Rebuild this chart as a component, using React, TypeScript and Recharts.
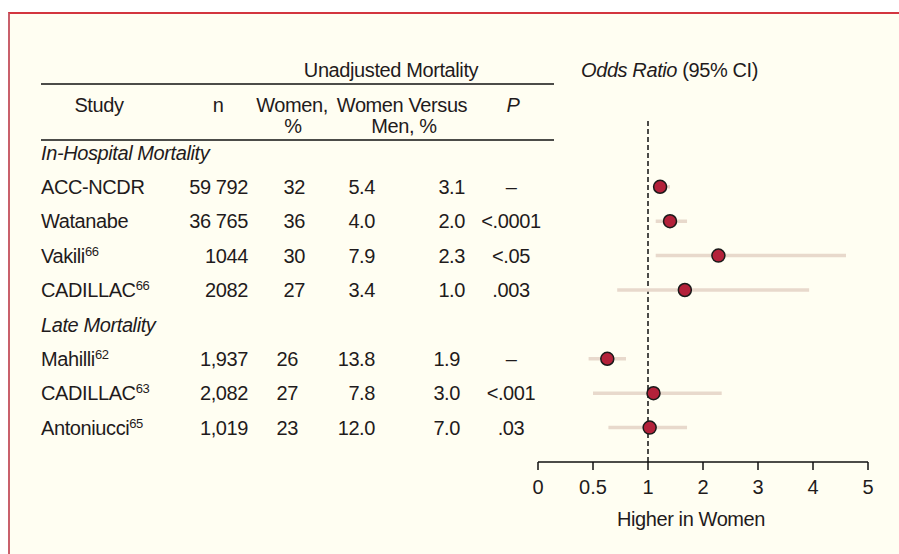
import { ScatterChart, Scatter, XAxis, YAxis, ReferenceLine, Label } from 'recharts';

// table columns
const studies = ['ACC-NCDR', 'Watanabe', 'Vakili', 'CADILLAC', 'Mahilli', 'CADILLAC', 'Antoniucci'];
const refs = ['', '', '66', '66', '62', '63', '65'];
const groupOf = [0, 0, 0, 0, 1, 1, 1];
const groupTitles = ['In-Hospital Mortality', 'Late Mortality'];
const nValues = ['59 792', '36 765', '1044', '2082', '1,937', '2,082', '1,019'];
const womenPct = ['32', '36', '30', '27', '26', '27', '23'];
const mortWomen = ['5.4', '4.0', '7.9', '3.4', '13.8', '7.8', '12.0'];
const mortMen = ['3.1', '2.0', '2.3', '1.0', '1.9', '3.0', '7.0'];
const pValues = ['–', '<.0001', '<.05', '.003', '–', '<.001', '.03'];

// odds ratio with 95% CI
const oddsRatio = [1.22, 1.4, 2.28, 1.67, 0.63, 1.1, 1.03];
const ciLow = [1.14, 1.14, 1.14, 0.72, 0.46, 0.5, 0.64];
const ciHigh = [1.4, 1.71, 4.6, 3.93, 0.8, 2.34, 1.71];

const tickValues = [0, 0.5, 1, 2, 3, 4, 5];

const FONT = "'Liberation Sans', Arial, Helvetica, sans-serif";
const INK = '#1f1b1c';
const FS = 20;
const LS = -0.4;

// axis is evenly spaced over 0, 0.5, 1, 2, 3, 4, 5
const toAxis = (v: number) => (v <= 1 ? v * 2 : v + 1);
const rowOf = (i: number) => i + 1 + groupOf[i];

const points = oddsRatio.map((v, i) => ({ x: toAxis(v), y: rowOf(i) }));
const ciSegments = oddsRatio.map((_, i) => [
  { x: toAxis(ciLow[i]), y: rowOf(i) },
  { x: toAxis(ciHigh[i]), y: rowOf(i) },
]);

const rowTicks = Array.from({ length: studies.length + groupTitles.length }, (_, k) => k);

const RowTick = ({ y, payload }: any) => {
  const row = payload.value;
  const g = groupTitles.findIndex((_, gi) => rowOf(groupOf.indexOf(gi)) - 1 === row);
  const common = { fontFamily: FONT, fontSize: FS, letterSpacing: LS, fill: INK, dy: '0.36em' };
  if (g >= 0) {
    return <text x={41} y={y} {...common} fontStyle="italic">{groupTitles[g]}</text>;
  }
  const i = studies.findIndex((_, si) => rowOf(si) === row);
  if (i < 0) return <g />;
  const late = groupOf[i] === 1;
  return (
    <g>
      <text x={41} y={y} {...common}>
        {studies[i]}
        {refs[i] && <tspan fontSize={13} dy={-7}>{refs[i]}</tspan>}
      </text>
      <text x={248} y={y} {...common} textAnchor="end">{nValues[i]}</text>
      <text x={late ? 298 : 305} y={y} {...common} textAnchor="end">{womenPct[i]}</text>
      <text x={375} y={y} {...common} textAnchor="end">{mortWomen[i]}</text>
      <text x={late ? 460 : 465} y={y} {...common} textAnchor="end">{mortMen[i]}</text>
      <text x={511} y={y} {...common} textAnchor="middle">{pValues[i]}</text>
    </g>
  );
};

const Dot = (props: any) => (
  <circle cx={props.cx} cy={props.cy} r={6.5} fill="#b3213a" stroke="#1a1a1a" strokeWidth={1.5} />
);

export default function App() {
  const txt = { fontFamily: FONT, fontSize: FS, letterSpacing: LS, fill: INK };
  return (
    <div style={{ position: 'absolute', left: 0, top: 0, width: 899, height: 554, background: '#fff', overflow: 'hidden' }}>
      <div
        style={{
          position: 'absolute', left: 8, top: 12, width: 900, height: 550,
          background: '#fffef2', borderTop: '2px solid #d3353f', borderLeft: '2px solid #c9606b',
        }}
      />
      <div style={{ position: 'absolute', left: 0, top: 0 }}>
        <ScatterChart width={899} height={554} margin={{ top: 118, right: 31, bottom: 0, left: 0 }}>
          <XAxis
            type="number"
            dataKey="x"
            domain={[0, 6]}
            ticks={[0, 1, 2, 3, 4, 5, 6]}
            interval={0}
            tickFormatter={(u: number) => String(tickValues[u])}
            height={92}
            axisLine={{ stroke: '#111', strokeWidth: 1.5 }}
            tickLine={{ stroke: '#111', strokeWidth: 1.5 }}
            tickSize={8}
            tickMargin={10}
            tick={{ fontFamily: FONT, fontSize: FS, fill: INK }}
          >
            <Label
              content={(p: any) => (
                <text x={p.viewBox.x + p.viewBox.width / 2 - 12} y={p.viewBox.y + 64} textAnchor="middle" {...txt}>
                  Higher in Women
                </text>
              )}
            />
          </XAxis>
          <YAxis
            type="number"
            dataKey="y"
            domain={[-1, 9]}
            reversed
            ticks={rowTicks}
            interval={0}
            width={538}
            axisLine={false}
            tickLine={false}
            tick={RowTick}
          />
          <ReferenceLine x={toAxis(1)} stroke="#111" strokeWidth={1.5} strokeDasharray="5 3" />
          {ciSegments.map((seg, i) => (
            <Scatter
              key={`ci-${i}`}
              data={seg}
              line={{ stroke: '#e8d9cc', strokeWidth: 3.5 }}
              lineType="joint"
              shape={() => <g />}
              isAnimationActive={false}
            />
          ))}
          <Scatter data={points} shape={Dot} isAnimationActive={false} />
        </ScatterChart>
      </div>
      <svg width={899} height={150} style={{ position: 'absolute', left: 0, top: 0, pointerEvents: 'none' }}>
        <text x={391} y={77} textAnchor="middle" {...txt}>Unadjusted Mortality</text>
        <line x1={41} x2={554} y1={84} y2={84} stroke="#111" strokeWidth={1.5} />
        <text x={99} y={112} textAnchor="middle" {...txt}>Study</text>
        <text x={218} y={112} textAnchor="middle" {...txt}>n</text>
        <text x={292} y={112} textAnchor="middle" {...txt}>Women,</text>
        <text x={293} y={133} textAnchor="middle" {...txt}>%</text>
        <text x={402} y={112} textAnchor="middle" {...txt}>Women Versus</text>
        <text x={404} y={133} textAnchor="middle" {...txt}>Men, %</text>
        <text x={513} y={112} textAnchor="middle" fontStyle="italic" {...txt}>P</text>
        <line x1={41} x2={554} y1={140} y2={140} stroke="#111" strokeWidth={1.5} />
        <text x={581} y={77} {...txt}>
          <tspan fontStyle="italic">Odds Ratio</tspan>
          {' (95% CI)'}
        </text>
      </svg>
    </div>
  );
}
